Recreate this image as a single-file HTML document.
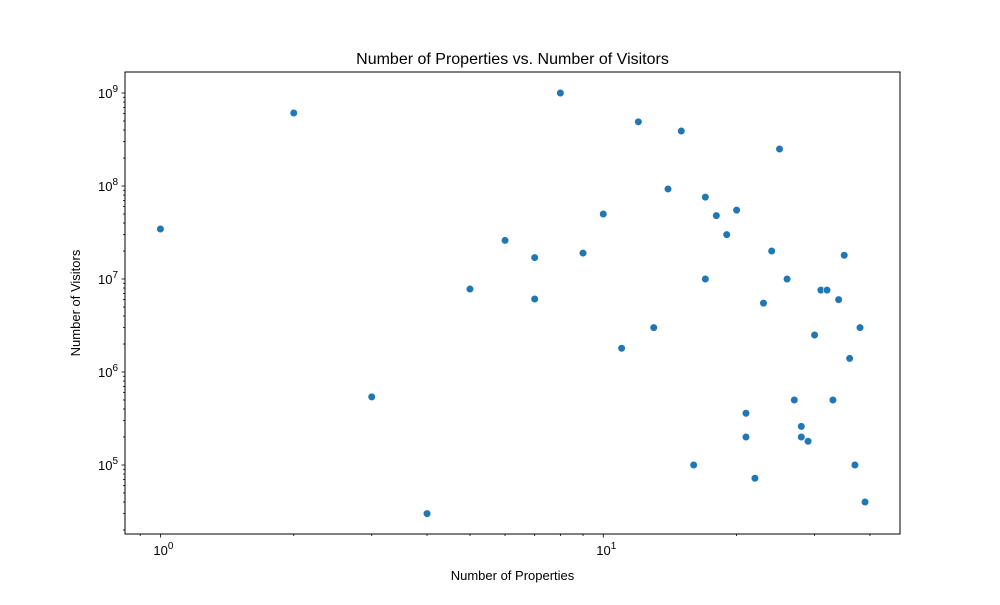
<!DOCTYPE html>
<html><head><meta charset="utf-8"><style>
body{margin:0;background:#fff;}
svg text{font-family:"Liberation Sans","DejaVu Sans",sans-serif;fill:#000;}
</style></head><body>
<svg id="chart" width="1000" height="600" xmlns="http://www.w3.org/2000/svg">
<rect width="1000" height="600" fill="#fff"/>
<text x="512.5" y="64" font-size="16" text-anchor="middle">Number of Properties vs. Number of Visitors</text>
<text x="512.5" y="580" font-size="13" text-anchor="middle">Number of Properties</text>
<text x="80" y="303" font-size="13" text-anchor="middle" transform="rotate(-90 80 303)">Number of Visitors</text>
<g id="ticks"></g><g id="pts"></g>
<rect x="125" y="72" width="775" height="462" fill="none" stroke="#000" stroke-width="1"/>
</svg>
<script>
const properties=[1,2,3,4,5,6,7,7,8,9,10,11,12,13,14,15,16,17,17,18,19,20,21,21,22,23,24,25,26,27,28,28,29,30,31,32,33,34,35,36,37,38,39];
const visitors=[3.45e7,6.1e8,5.4e5,3e4,7.8e6,2.6e7,1.7e7,6.1e6,1e9,1.9e7,5e7,1.8e6,4.9e8,3e6,9.3e7,3.9e8,1e5,7.6e7,1e7,4.8e7,3e7,5.5e7,3.6e5,2e5,7.2e4,5.5e6,2e7,2.5e8,1e7,5e5,2.6e5,2e5,1.8e5,2.5e6,7.6e6,7.6e6,5e5,6e6,1.8e7,1.4e6,1e5,3e6,4e4];
const xMajorTicks=[1,10];
const xMajorLabels=["0","1"];
const yMajorTicks=[1e5,1e6,1e7,1e8,1e9];
const yMajorLabels=["5","6","7","8","9"];
const L=125,R=900,T=72,B=534;
const xl0=-0.080,xl1=1.670,yl0=4.258,yl1=9.226;
const X=v=>L+(Math.log10(v)-xl0)/(xl1-xl0)*(R-L);
const Y=v=>B-(Math.log10(v)-yl0)/(yl1-yl0)*(B-T);
const NS="http://www.w3.org/2000/svg";
const tg=document.getElementById('ticks'),pg=document.getElementById('pts');
function line(x1,y1,x2,y2,name){const l=document.createElementNS(NS,'line');l.setAttribute('x1',x1);l.setAttribute('y1',y1);l.setAttribute('x2',x2);l.setAttribute('y2',y2);l.setAttribute('stroke','#000');l.setAttribute('stroke-width','0.8');


tg.appendChild(l);}
function label(x,y,exp,anchor,name){const t=document.createElementNS(NS,'text');t.setAttribute('x',x);t.setAttribute('y',y);t.setAttribute('font-size','13');t.setAttribute('text-anchor',anchor);
t.innerHTML='10<tspan font-size="10" dy="-6">'+exp+'</tspan>';


tg.appendChild(t);}
for(let d=-1;d<=1;d++)for(let m=2;m<=9;m++){const v=m*Math.pow(10,d);const x=X(v);if(x>=L&&x<=R)line(x,B,x,B+2,'x-minor-tick');}
xMajorTicks.forEach((v,i)=>{const x=X(v);line(x,B,x,B+3.5,'x-major-tick');label(x+3,B+21,xMajorLabels[i],'middle','x-tick-label');});
for(let d=4;d<=9;d++)for(let m=2;m<=9;m++){const v=m*Math.pow(10,d);const y=Y(v);if(y>=T&&y<=B)line(L-2,y,L,y,'y-minor-tick');}
yMajorTicks.forEach((v,i)=>{const y=Y(v);line(L-3.5,y,L,y,'y-major-tick');label(L-7,y+5,yMajorLabels[i],'end','y-tick-label');});
properties.forEach((p,i)=>{const c=document.createElementNS(NS,'circle');c.setAttribute('cx',X(p));c.setAttribute('cy',Y(visitors[i]));c.setAttribute('r','3.8');c.setAttribute('fill','#1f77b4');c.setAttribute('stroke','#fff');c.setAttribute('stroke-width','0.6');


pg.appendChild(c);});
</script>
</body></html>
